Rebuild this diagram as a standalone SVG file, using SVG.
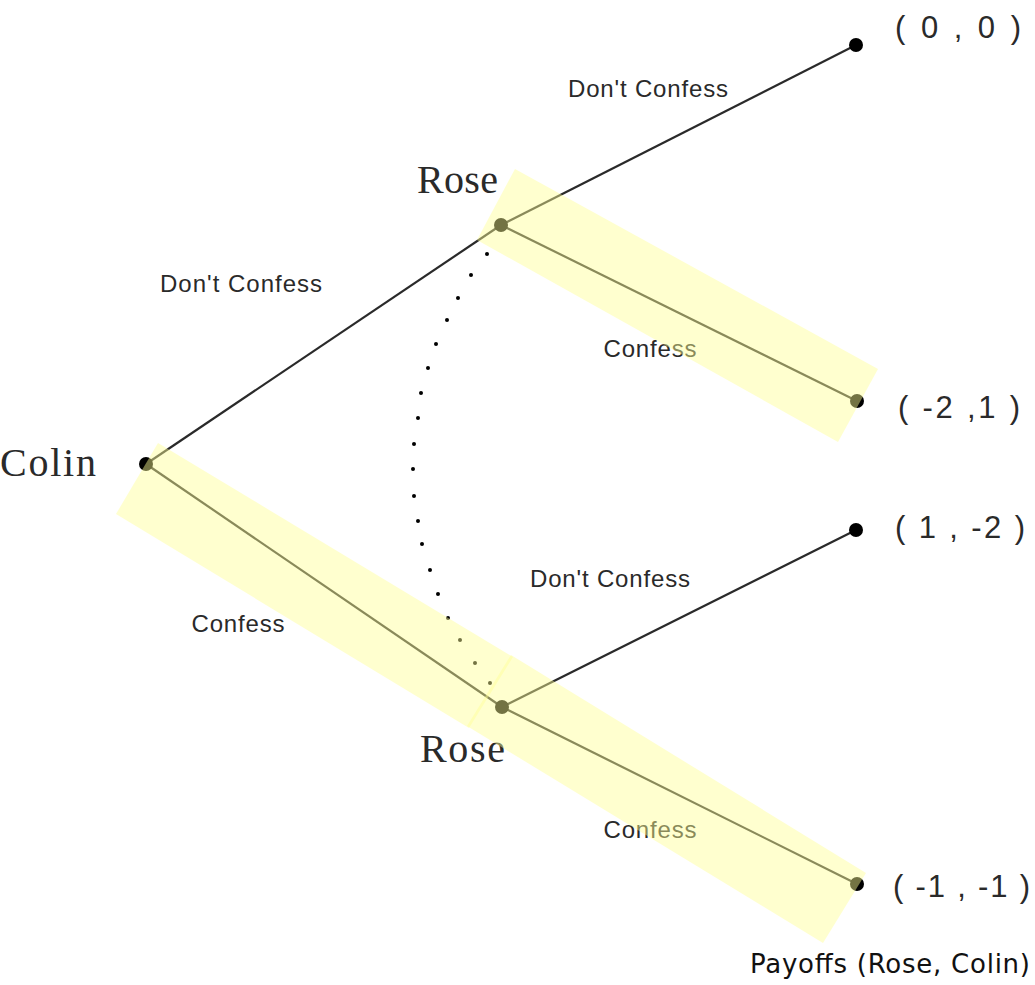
<svg xmlns="http://www.w3.org/2000/svg" width="1035" height="985" viewBox="0 0 1035 985">
<style>
.edge{stroke:#2a2a2a;stroke-width:2.2;fill:none}
.dot{fill:#000}
.arc{fill:#000}
.player{font-family:"Liberation Serif","Times New Roman",serif;font-size:40px;fill:#2a2a2a}
.lbl{font-family:"Liberation Sans",Arial,sans-serif;font-size:24px;fill:#2a2a2a}
.pay{font-family:"Liberation Sans",Arial,sans-serif;font-size:31px;fill:#2a2a2a}
.note{font-family:"DejaVu Sans",Verdana,sans-serif;font-size:26px;fill:#111}
.band{fill:#ffff94;opacity:0.45}
</style>
<rect width="1035" height="985" fill="#fff"/>
<g id="connectors">
<line class="edge" x1="146" y1="464" x2="501" y2="225"/>
<line class="edge" x1="146" y1="464" x2="502" y2="707"/>
<line class="edge" x1="501" y1="225" x2="856" y2="45"/>
<line class="edge" x1="501" y1="225" x2="857" y2="401"/>
<line class="edge" x1="502" y1="707" x2="856" y2="530"/>
<line class="edge" x1="502" y1="707" x2="857" y2="884"/>
<g id="info-set" class="arc">
<circle cx="487" cy="254" r="2"/><circle cx="471" cy="275" r="2"/><circle cx="458" cy="298" r="2"/>
<circle cx="447" cy="320" r="2"/><circle cx="436" cy="344" r="2"/><circle cx="428" cy="368" r="2"/>
<circle cx="421" cy="393" r="2"/><circle cx="418" cy="418" r="2"/><circle cx="414" cy="444" r="2"/>
<circle cx="413" cy="469" r="2"/><circle cx="414" cy="496" r="2"/><circle cx="418" cy="521" r="2"/>
<circle cx="422" cy="544" r="2"/><circle cx="430" cy="570" r="2"/><circle cx="438" cy="594" r="2"/>
<circle cx="448" cy="618" r="2"/><circle cx="460" cy="640" r="2"/><circle cx="475" cy="663" r="2"/>
<circle cx="490" cy="683" r="2"/>
</g>
<text class="lbl" x="648" y="97" text-anchor="middle" textLength="160">Don't Confess</text>
<text class="lbl" x="241" y="292" text-anchor="middle" textLength="162">Don't Confess</text>
<text class="lbl" x="650" y="357" text-anchor="middle" textLength="93">Confess</text>
<text class="lbl" x="238" y="632" text-anchor="middle" textLength="93">Confess</text>
<text class="lbl" x="610" y="587" text-anchor="middle" textLength="160">Don't Confess</text>
<text class="lbl" x="650" y="838" text-anchor="middle" textLength="93">Confess</text>
</g>
<g id="colin">
<circle class="dot" cx="146" cy="464" r="7"/>
<text class="player" x="0" y="476" textLength="96">Colin</text>
</g>
<g id="rose-top">
<circle class="dot" cx="501" cy="225" r="7"/>
<text class="player" x="417" y="193" textLength="81">Rose</text>
</g>
<g id="rose-bottom">
<circle class="dot" cx="502" cy="707" r="7"/>
<text class="player" x="420" y="762" textLength="85">Rose</text>
</g>
<g id="payoff-00">
<circle class="dot" cx="856" cy="45" r="7"/>
<text class="pay" x="895" y="38" textLength="126">( 0 , 0 )</text>
</g>
<g id="payoff-m21">
<circle class="dot" cx="857" cy="401" r="7"/>
<text class="pay" x="898" y="418" textLength="122">( -2 ,1 )</text>
</g>
<g id="payoff-1m2">
<circle class="dot" cx="856" cy="530" r="7"/>
<text class="pay" x="895" y="538" textLength="130">( 1 , -2 )</text>
</g>
<g id="payoff-m1m1">
<circle class="dot" cx="857" cy="884" r="7"/>
<text class="pay" x="893" y="897" textLength="137">( -1 , -1 )</text>
</g>
<g id="highlights">
<polygon class="band" points="515,169 878,369 838,442 477,240"/>
<polygon class="band" points="158,443 513,657 469,728 116,514"/>
<polygon class="band" points="511,655 866,873 823,943 467,726"/>
</g>
<text class="note" x="750" y="973" textLength="280">Payoffs (Rose, Colin)</text>
</svg>
